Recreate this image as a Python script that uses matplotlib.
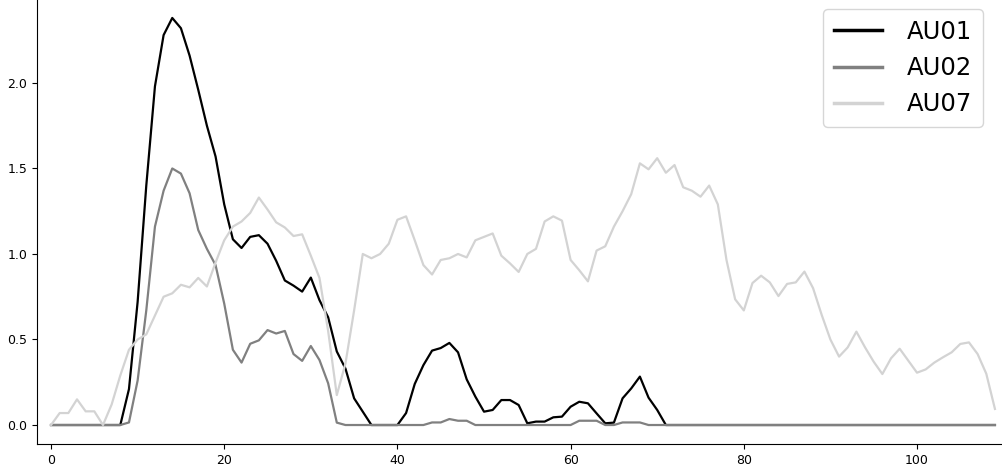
import numpy as np
import matplotlib.pyplot as plt

frames = np.arange(110)

au01 = [0, 0, 0, 0, 0, 0, 0, 0, 0, 0.21,
        0.72, 1.40, 1.98, 2.28, 2.38, 2.32, 2.16, 1.96, 1.75, 1.57,
        1.29, 1.086, 1.035, 1.10, 1.11, 1.06, 0.96, 0.845, 0.815, 0.78,
        0.862, 0.73, 0.63, 0.43, 0.33, 0.156, 0.078, 0, 0, 0,
        0, 0.07, 0.24, 0.35, 0.435, 0.45, 0.48, 0.425, 0.267, 0.166,
        0.078, 0.088, 0.146, 0.146, 0.117, 0.01, 0.02, 0.02, 0.045, 0.049,
        0.107, 0.136, 0.127, 0.068, 0.01, 0.014, 0.156, 0.214, 0.283, 0.16,
        0.088, 0, 0, 0, 0, 0, 0, 0, 0, 0,
        0, 0, 0, 0, 0, 0, 0, 0, 0, 0,
        0, 0, 0, 0, 0, 0, 0, 0, 0, 0,
        0, 0, 0, 0, 0, 0, 0, 0, 0, 0]

au02 = [0, 0, 0, 0, 0, 0, 0, 0, 0, 0.015,
        0.26, 0.67, 1.16, 1.37, 1.50, 1.47, 1.355, 1.14, 1.03, 0.935,
        0.71, 0.44, 0.365, 0.475, 0.495, 0.555, 0.535, 0.55, 0.415, 0.375,
        0.462, 0.38, 0.244, 0.014, 0, 0, 0, 0, 0, 0,
        0, 0, 0, 0, 0.015, 0.015, 0.035, 0.025, 0.025, 0,
        0, 0, 0, 0, 0, 0, 0, 0, 0, 0,
        0, 0.025, 0.025, 0.025, 0, 0, 0.015, 0.015, 0.015, 0,
        0, 0, 0, 0, 0, 0, 0, 0, 0, 0,
        0, 0, 0, 0, 0, 0, 0, 0, 0, 0,
        0, 0, 0, 0, 0, 0, 0, 0, 0, 0,
        0, 0, 0, 0, 0, 0, 0, 0, 0, 0]

au07 = [0, 0.07, 0.07, 0.15, 0.08, 0.08, 0, 0.12, 0.29, 0.44,
        0.50, 0.53, 0.64, 0.75, 0.77, 0.82, 0.805, 0.86, 0.81, 0.95,
        1.08, 1.16, 1.19, 1.24, 1.33, 1.26, 1.185, 1.155, 1.105, 1.115,
        0.99, 0.86, 0.55, 0.175, 0.36, 0.67, 1.00, 0.975, 1.00, 1.06,
        1.20, 1.22, 1.08, 0.935, 0.88, 0.965, 0.975, 1.00, 0.98, 1.08,
        1.10, 1.12, 0.99, 0.945, 0.895, 1.00, 1.03, 1.19, 1.22, 1.195,
        0.965, 0.905, 0.84, 1.02, 1.045, 1.16, 1.25, 1.35, 1.53, 1.495,
        1.56, 1.475, 1.52, 1.39, 1.37, 1.335, 1.40, 1.29, 0.965, 0.735,
        0.67, 0.83, 0.873, 0.834, 0.754, 0.825, 0.834, 0.897, 0.80, 0.643,
        0.50, 0.40, 0.454, 0.546, 0.454, 0.37, 0.298, 0.39, 0.446, 0.376,
        0.306, 0.325, 0.365, 0.396, 0.425, 0.474, 0.483, 0.415, 0.30, 0.094]

fig = plt.figure(figsize=(10.02, 4.70), dpi=100)
ax = fig.add_axes([37 / 1002, 26 / 470, 964 / 1002, 444 / 470])

ax.plot(frames, au01, color='black', lw=1.6, label='AU01')
ax.plot(frames, au02, color='gray', lw=1.6, label='AU02')
ax.plot(frames, au07, color='lightgray', lw=1.6, label='AU07')

ax.set_xlim(-1.62, 109.7)
ax.set_ylim(-0.111, 2.485)
ax.set_xticks([0, 20, 40, 60, 80, 100])
ax.set_yticks([0.0, 0.5, 1.0, 1.5, 2.0])
ax.tick_params(labelsize=9)
ax.spines['top'].set_visible(False)
ax.spines['right'].set_visible(False)

# legend box pinned to where it sits in the original
leg = ax.legend(loc='upper right', fontsize=17.5, borderaxespad=0,
                bbox_to_anchor=(983 / 1002, 461 / 470), bbox_transform=fig.transFigure,
                handlelength=2.0, handletextpad=1.0, borderpad=0.45)
for line in leg.get_lines():
    line.set_linewidth(2.5)

fig.savefig('out.png', dpi=100)
